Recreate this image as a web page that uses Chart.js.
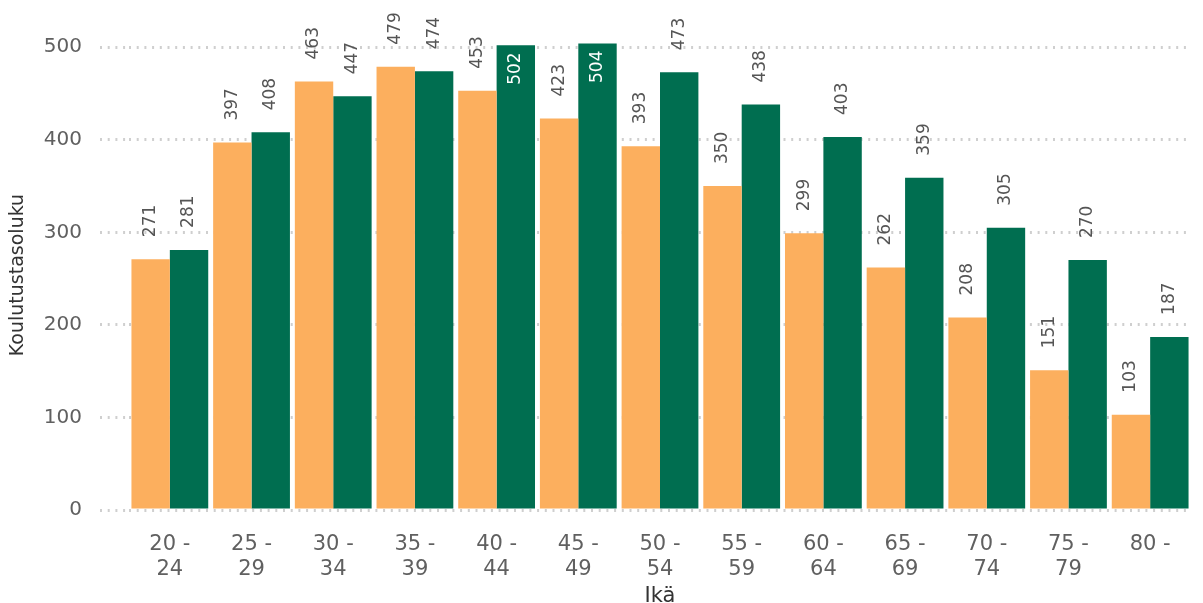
<!DOCTYPE html>
<html>
<head>
<meta charset="utf-8">
<script src="https://cdn.jsdelivr.net/npm/chart.js@4/dist/chart.umd.min.js"></script>
<style>
  html, body { margin: 0; padding: 0; background: #fff; }
  #wrap { width: 1203px; height: 603px; }
</style>
</head>
<body>
<div id="wrap"><canvas id="chart"></canvas></div>
<script>
// Age groups (x axis)
const ageGroups = [
    ['20 -', '24'], ['25 -', '29'], ['30 -', '34'], ['35 -', '39'], ['40 -', '44'],
    ['45 -', '49'], ['50 -', '54'], ['55 -', '59'], ['60 -', '64'], ['65 -', '69'],
    ['70 -', '74'], ['75 -', '79'], ['80 -']
];

// Series values
const orangeValues = [271, 397, 463, 479, 453, 423, 393, 350, 299, 262, 208, 151, 103];
const greenValues = [281, 408, 447, 474, 502, 504, 473, 438, 403, 359, 305, 270, 187];

const yTicks = [0, 100, 200, 300, 400, 500];
const yTitle = 'Koulutustasoluku';

const FONT = 'DejaVu Sans, Verdana, sans-serif';

// Rotated value labels above bars (or inside when there's no room)
const valueLabels = {
    id: 'valueLabels',
    afterDatasetsDraw(chart) {
        const ctx = chart.ctx;
        ctx.save();
        ctx.font = '17px ' + FONT;
        ctx.textBaseline = 'middle';
        chart.data.datasets.forEach((ds, di) => {
            const meta = chart.getDatasetMeta(di);
            meta.data.forEach((bar, i) => {
                const text = String(ds.data[i]);
                const w = ctx.measureText(text).width;
                const outsideGap = 22;
                ctx.save();
                ctx.translate(bar.x, bar.y);
                ctx.rotate(-Math.PI / 2);
                if (bar.y - outsideGap - w < 0) {
                    ctx.fillStyle = '#ffffff';
                    ctx.textAlign = 'right';
                    ctx.fillText(text, -7, 0);
                } else {
                    ctx.fillStyle = '#555555';
                    ctx.textAlign = 'left';
                    ctx.fillText(text, outsideGap, 0);
                }
                ctx.restore();
            });
        });

        // y axis title, sits a bit lower than the plot centre in the original
        ctx.font = '19px ' + FONT;
        ctx.fillStyle = '#333333';
        ctx.textAlign = 'center';
        ctx.translate(18, 275);
        ctx.rotate(-Math.PI / 2);
        ctx.fillText(yTitle, 0, 0);
        ctx.restore();
    }
};

new Chart(document.getElementById('chart'), {
    type: 'bar',
    data: {
        labels: ageGroups,
        datasets: [
            {
                data: orangeValues,
                backgroundColor: '#FCAF5E',
                categoryPercentage: 0.94,
                barPercentage: 1.0
            },
            {
                data: greenValues,
                backgroundColor: '#006E50',
                categoryPercentage: 0.94,
                barPercentage: 1.0
            }
        ]
    },
    options: {
        responsive: true,
        maintainAspectRatio: false,
        animation: false,
        layout: { padding: { left: 0, right: 12, top: 0, bottom: 0 } },
        plugins: {
            legend: { display: false },
            tooltip: { enabled: false }
        },
        scales: {
            x: {
                grid: { display: false },
                border: { display: false },
                ticks: {
                    color: '#606060',
                    font: { family: FONT, size: 21 },
                    padding: 14,
                    maxRotation: 0,
                    autoSkip: false
                },
                title: {
                    display: true,
                    text: 'Ikä',
                    color: '#333333',
                    font: { family: FONT, size: 21 },
                    padding: { top: 0, bottom: -6 }
                },
                afterFit(scale) { scale.height = 93; }
            },
            y: {
                min: 0,
                max: 551,
                afterBuildTicks(scale) {
                    scale.ticks = yTicks.map(v => ({ value: v }));
                },
                grid: {
                    color: '#cfcfcf',
                    lineWidth: 3,
                    tickLength: 29,
                    tickColor: '#cfcfcf',
                    tickWidth: 3,
                    tickBorderDash: [2, 5.7]
                },
                border: { display: false, dash: [2, 5.7] },
                ticks: {
                    color: '#606060',
                    font: { family: FONT, size: 20 },
                    padding: 18
                },
                title: { display: false },
                afterFit(scale) {
                    scale.width = 129;
                    scale.paddingTop = 0;
                    scale.paddingBottom = 0;
                }
            }
        }
    },
    plugins: [valueLabels]
});
</script>
</body>
</html>
